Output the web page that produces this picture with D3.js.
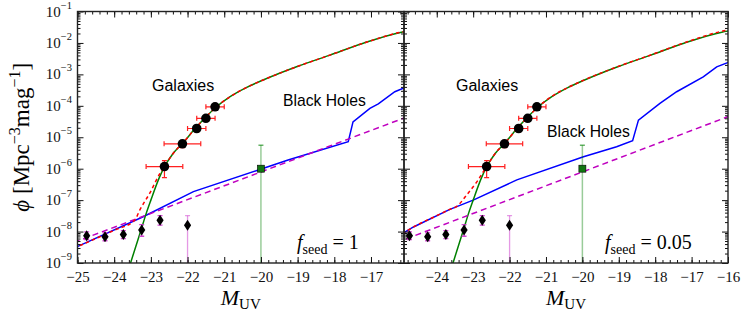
<!DOCTYPE html>
<html>
<head>
<meta charset="utf-8">
<script src="https://cdnjs.cloudflare.com/ajax/libs/d3/7.8.5/d3.min.js"></script>
<style>
body { margin: 0; background: #fff; }
</style>
</head>
<body>
<div id="chart"></div>
<script>
// galaxy luminosity function model (same in both panels)
var galMag = [-23.56, -23.27, -23.12, -23.0, -22.77, -22.62, -22.4, -22.13, -21.76, -21.5, -21.25, -20.84, -20.4, -19.94, -19.03, -18.12, -17.21, -16.17, -15.9];
var galPhi = [9.5e-10, 1.1e-8, 4.0e-8, 1.0e-7, 5.2e-7, 1.2e-6, 3.0e-6, 6.5e-6, 2.1e-5, 4.4e-5, 8.5e-5, 1.95e-4, 3.8e-4, 6.6e-4, 1.74e-3, 4.1e-3, 9.8e-3, 0.022, 0.025];

// total (galaxies + black holes), f_seed = 1
var totMag1 = [-25.1, -24.5, -24.0, -23.44, -23.3, -23.03, -22.76, -22.62, -22.4, -22.13, -21.76, -21.5, -21.25, -20.84, -20.4, -19.94, -19.03, -18.12, -17.21, -16.17, -15.9];
var totPhi1 = [2.95e-9, 6.0e-9, 1.1e-8, 2.3e-8, 4.9e-8, 1.66e-7, 6.8e-7, 1.2e-6, 3.0e-6, 6.5e-6, 2.1e-5, 4.4e-5, 8.5e-5, 1.95e-4, 3.8e-4, 6.6e-4, 1.74e-3, 4.1e-3, 9.8e-3, 0.022, 0.025];
// black holes, f_seed = 1
var bhMag1 = [-25.1, -23.21, -21.84, -20.07, -19.26, -17.62, -17.49, -17.03, -16.8, -16.35, -16.1];
var bhPhi1 = [2.95e-9, 2.95e-8, 1.86e-7, 9.1e-7, 1.9e-6, 7.2e-6, 3.1e-5, 8.3e-5, 1.15e-4, 2.8e-4, 3.7e-4];

// total, f_seed = 0.05
var totMag2 = [-24.95, -24.64, -24.0, -23.64, -23.45, -23.18, -22.9, -22.62, -22.4, -22.13, -21.76, -21.5, -21.25, -20.84, -20.4, -19.94, -19.03, -18.12, -17.21, -16.17, -15.9];
var totPhi2 = [8.5e-9, 1.4e-8, 3.2e-8, 5.1e-8, 6.3e-8, 1.45e-7, 3.8e-7, 1.23e-6, 3.0e-6, 6.5e-6, 2.1e-5, 4.4e-5, 8.5e-5, 2.0e-4, 3.8e-4, 6.7e-4, 1.76e-3, 4.15e-3, 1.0e-2, 0.0235, 0.027];
// black holes, f_seed = 0.05
var bhMag2 = [-24.95, -24.64, -23.64, -23.0, -21.8, -19.97, -19.06, -18.62, -18.46, -17.87, -17.41, -16.68, -16.31, -15.95];
var bhPhi2 = [8.5e-9, 1.4e-8, 5.1e-8, 1.0e-7, 4.4e-7, 2.4e-6, 5.0e-6, 7.8e-6, 3.5e-5, 1.2e-4, 2.8e-4, 8.3e-4, 1.74e-3, 2.5e-3];

// reference power law (dashed magenta)
var plMag = [-25.1, -15.9];
var plPhi = [4.5e-9, 5.0e-5];

// galaxy data points
var galObsMag = [-22.63, -22.14, -21.75, -21.5, -21.25];
var galObsPhi = [1.17e-6, 6.2e-6, 1.9e-5, 4.0e-5, 9.3e-5];
var galObsXerr = [0.5, 0.5, 0.25, 0.25, 0.25];
var galObsHi = [1.8e-6, 7.8e-6, 2.3e-5, 4.7e-5, 1.07e-4];
var galObsLo = [5.2e-7, 4.7e-6, 1.5e-5, 3.3e-5, 8.0e-5];

// quasar data points
var qsoMag = [-24.75, -24.25, -23.75, -23.25, -22.75, -22.0];
var qsoPhi = [7.4e-9, 6.9e-9, 8.1e-9, 1.12e-8, 2.3e-8, 1.6e-8];
var qsoHi = [9.8e-9, 9.1e-9, 1.07e-8, 1.66e-8, 3.2e-8, 3.2e-8];
var qsoLo = [5.6e-9, 5.1e-9, 6.0e-9, 7.1e-9, 1.6e-8, 1e-10];

// green square
var sqMag = [-20];
var sqPhi = [1.0e-6];
var sqHi = [5.6e-6];
var sqLo = [1e-10];

var xTicksL = [-25, -24, -23, -22, -21, -20, -19, -18, -17];
var xTicksR = [-24, -23, -22, -21, -20, -19, -18, -17, -16];
var yDecades = [-9, -8, -7, -6, -5, -4, -3, -2, -1];

var W = 747, H = 323;
var yTop = 11.5, yBot = 263;

var svg = d3.select('#chart').append('svg')
    .attr('width', W)
    .attr('height', H)
    .style('font-family', 'Liberation Serif, serif');

var y = d3.scaleLog().domain([1e-9, 1e-1]).range([yBot, yTop]);

var panels = [
    {x0: 77.5, x1: 404, dom: [-25, -16.1], ticks: xTicksL, gal: [galMag, galPhi], tot: [totMag1, totPhi1], bh: [bhMag1, bhPhi1],
     label: '1', galTxt: [152, 91], bhTxt: [283, 106], fx: 297},
    {x0: 404, x1: 728, dom: [-24.9, -16], ticks: xTicksR, gal: [galMag, galPhi], tot: [totMag2, totPhi2], bh: [bhMag2, bhPhi2],
     label: '0.05', galTxt: [456, 91], bhTxt: [547, 137], fx: 605}
];

function zip(a, b) { return a.map(function(d, i) { return [d, b[i]]; }); }

panels.forEach(function(p, pi) {
    var x = d3.scaleLinear().domain(p.dom).range([p.x0, p.x1]);
    var g = svg.append('g');

    svg.append('clipPath').attr('id', 'clip' + pi)
        .append('rect')
        .attr('x', p.x0).attr('y', yTop)
        .attr('width', p.x1 - p.x0).attr('height', yBot - yTop);

    var line = d3.line()
        .x(function(d) { return x(d[0]); })
        .y(function(d) { return y(d[1]); });
    var smooth = d3.line()
        .x(function(d) { return x(d[0]); })
        .y(function(d) { return y(d[1]); })
        .curve(d3.curveMonotoneX);

    var lines = g.append('g').attr('clip-path', 'url(#clip' + pi + ')');

    lines.append('path')
        .attr('d', line(zip(p.bh[0], p.bh[1])))
        .style('fill', 'none').style('stroke', '#0000ff').style('stroke-width', 1.5);
    lines.append('path')
        .attr('d', smooth(zip(p.gal[0], p.gal[1])))
        .style('fill', 'none').style('stroke', '#008000').style('stroke-width', 1.5);
    lines.append('path')
        .attr('d', line(zip(plMag, plPhi)))
        .style('fill', 'none').style('stroke', '#bf00bf').style('stroke-width', 1.5)
        .style('stroke-dasharray', '6,4');
    lines.append('path')
        .attr('d', smooth(zip(p.tot[0], p.tot[1])))
        .style('fill', 'none').style('stroke', '#ff0000').style('stroke-width', 1.5)
        .style('stroke-dasharray', '3.5,3');

    // error bars
    var eb = lines.append('g');
    // green square
    sqMag.forEach(function(m, i) {
        eb.append('line')
            .attr('x1', x(m)).attr('x2', x(m))
            .attr('y1', y(sqHi[i])).attr('y2', y(sqLo[i]))
            .style('stroke', '#008000').style('stroke-opacity', 0.4).style('stroke-width', 1.5);
        eb.append('line')
            .attr('x1', x(m) - 2.5).attr('x2', x(m) + 2.5)
            .attr('y1', y(sqHi[i])).attr('y2', y(sqHi[i]))
            .style('stroke', '#008000').style('stroke-opacity', 0.6).style('stroke-width', 1.5);
    });
    qsoMag.forEach(function(m, i) {
        var faint = qsoLo[i] < 1e-9;
        eb.append('line')
            .attr('x1', x(m)).attr('x2', x(m))
            .attr('y1', y(qsoHi[i])).attr('y2', y(qsoLo[i]))
            .style('stroke', '#cc33cc').style('stroke-opacity', faint ? 0.5 : 0.9).style('stroke-width', 1.3);
        [qsoHi[i], qsoLo[i]].forEach(function(v) {
            eb.append('line')
                .attr('x1', x(m) - 2.5).attr('x2', x(m) + 2.5)
                .attr('y1', y(v)).attr('y2', y(v))
                .style('stroke', '#cc33cc').style('stroke-opacity', faint ? 0.5 : 0.9).style('stroke-width', 1.3);
        });
    });
    galObsMag.forEach(function(m, i) {
        var xl = x(m - galObsXerr[i]), xr = x(m + galObsXerr[i]);
        eb.append('line')
            .attr('x1', xl).attr('x2', xr)
            .attr('y1', y(galObsPhi[i])).attr('y2', y(galObsPhi[i]))
            .style('stroke', '#ff2020').style('stroke-width', 1.2);
        eb.append('line')
            .attr('x1', x(m)).attr('x2', x(m))
            .attr('y1', y(galObsHi[i])).attr('y2', y(galObsLo[i]))
            .style('stroke', '#ff2020').style('stroke-width', 1.2);
        [xl, xr].forEach(function(xx) {
            eb.append('line')
                .attr('x1', xx).attr('x2', xx)
                .attr('y1', y(galObsPhi[i]) - 2.5).attr('y2', y(galObsPhi[i]) + 2.5)
                .style('stroke', '#ff2020').style('stroke-width', 1.2);
        });
        [galObsHi[i], galObsLo[i]].forEach(function(v) {
            eb.append('line')
                .attr('x1', x(m) - 2.5).attr('x2', x(m) + 2.5)
                .attr('y1', y(v)).attr('y2', y(v))
                .style('stroke', '#ff2020').style('stroke-width', 1.2);
        });
    });

    // markers
    var mk = lines.append('g');
    mk.selectAll('.sq').data(zip(sqMag, sqPhi)).enter().append('rect')
        .attr('x', function(d) { return x(d[0]) - 3.5; })
        .attr('y', function(d) { return y(d[1]) - 3.5; })
        .attr('width', 7).attr('height', 7)
        .style('fill', '#117711').style('stroke', '#000').style('stroke-width', 0.6);
    mk.selectAll('.qso').data(zip(qsoMag, qsoPhi)).enter().append('path')
        .attr('d', function(d) {
            var cx = x(d[0]), cy = y(d[1]);
            return 'M' + cx + ',' + (cy - 5.5) + 'L' + (cx + 3.6) + ',' + cy + 'L' + cx + ',' + (cy + 5.5) + 'L' + (cx - 3.6) + ',' + cy + 'Z';
        })
        .style('fill', '#000');
    mk.selectAll('.gal').data(zip(galObsMag, galObsPhi)).enter().append('circle')
        .attr('cx', function(d) { return x(d[0]); })
        .attr('cy', function(d) { return y(d[1]); })
        .attr('r', 4.8)
        .style('fill', '#000');

    // axes
    var minorX = d3.range(Math.ceil(p.dom[0] * 5), Math.floor(p.dom[1] * 5) + 1).map(function(k) { return k / 5; });
    var bottom = g.append('g').attr('transform', 'translate(0,' + yBot + ')');
    bottom.call(d3.axisBottom(x).tickValues(minorX).tickSize(-3).tickFormat(''));
    bottom.append('g').call(d3.axisBottom(x).tickValues(p.ticks).tickSize(-6).tickPadding(8)
        .tickFormat(function(d) { return '\u2212' + Math.abs(d); }));
    var top = g.append('g').attr('transform', 'translate(0,' + yTop + ')');
    top.call(d3.axisTop(x).tickValues(minorX).tickSize(-3).tickFormat(''));
    top.append('g').call(d3.axisTop(x).tickValues(p.ticks).tickSize(-6).tickFormat(''));

    var minorY = [];
    yDecades.slice(0, -1).forEach(function(e) {
        for (var k = 2; k <= 9; k++) minorY.push(k * Math.pow(10, e));
    });
    var majorY = yDecades.map(function(e) { return Math.pow(10, e); });
    [[p.x0, d3.axisLeft, -1], [p.x1, d3.axisRight, 1]].forEach(function(s) {
        var ag = g.append('g').attr('transform', 'translate(' + s[0] + ',0)');
        ag.call(s[1](y).tickValues(minorY).tickSize(-3).tickFormat(''));
        ag.append('g').call(s[1](y).tickValues(majorY).tickSize(-6).tickFormat(''));
    });

    g.selectAll('.domain').remove();
    g.selectAll('.tick line').style('stroke', '#111').style('stroke-width', 1);
    g.selectAll('.tick text')
        .style('font-family', 'Liberation Serif, serif')
        .style('font-size', '15px')
        .style('fill', '#111');

    g.append('rect')
        .attr('x', p.x0).attr('y', yTop)
        .attr('width', p.x1 - p.x0).attr('height', yBot - yTop)
        .style('fill', 'none').style('stroke', '#222').style('stroke-width', 1.4);

    // labels
    g.append('text').attr('x', p.galTxt[0]).attr('y', p.galTxt[1])
        .style('font-family', 'Liberation Sans, Arial, sans-serif').style('font-size', '16px')
        .text('Galaxies');
    g.append('text').attr('x', p.bhTxt[0]).attr('y', p.bhTxt[1])
        .style('font-family', 'Liberation Sans, Arial, sans-serif').style('font-size', '15.7px')
        .text('Black Holes');

    var ft = g.append('text').attr('x', p.fx).attr('y', 249)
        .style('font-size', '20px');
    ft.append('tspan').style('font-style', 'italic').text('f');
    ft.append('tspan').attr('dy', 5).style('font-size', '14px').text('seed');
    ft.append('tspan').attr('dy', -5).text(' = ' + p.label);

    var xl = g.append('text')
        .attr('x', (p.x0 + p.x1) / 2).attr('y', 305)
        .attr('text-anchor', 'middle')
        .style('font-size', '22px');
    xl.append('tspan').style('font-style', 'italic').text('M');
    xl.append('tspan').attr('dy', 4).style('font-size', '15px').text('UV');
});

// y tick labels
yDecades.forEach(function(e) {
    var t = svg.append('text')
        .attr('x', 72).attr('y', y(Math.pow(10, e)) + 5)
        .attr('text-anchor', 'end')
        .style('font-size', '15px').style('fill', '#111');
    t.append('tspan').text('10');
    t.append('tspan').attr('dy', -8).style('font-size', '10.5px').text('\u2212' + Math.abs(e));
});

// y axis title
var yl = svg.append('text')
    .attr('transform', 'translate(29,' + ((yTop + yBot) / 2) + ') rotate(-90)')
    .attr('text-anchor', 'middle')
    .style('font-size', '23px');
yl.append('tspan').style('font-style', 'italic').text('\u03d5');
yl.append('tspan').text(' [Mpc');
yl.append('tspan').attr('dy', -9).style('font-size', '16px').text('\u22123');
yl.append('tspan').attr('dy', 9).text('mag');
yl.append('tspan').attr('dy', -9).style('font-size', '16px').text('\u22121');
yl.append('tspan').attr('dy', 9).text(']');
</script>
</body>
</html>
